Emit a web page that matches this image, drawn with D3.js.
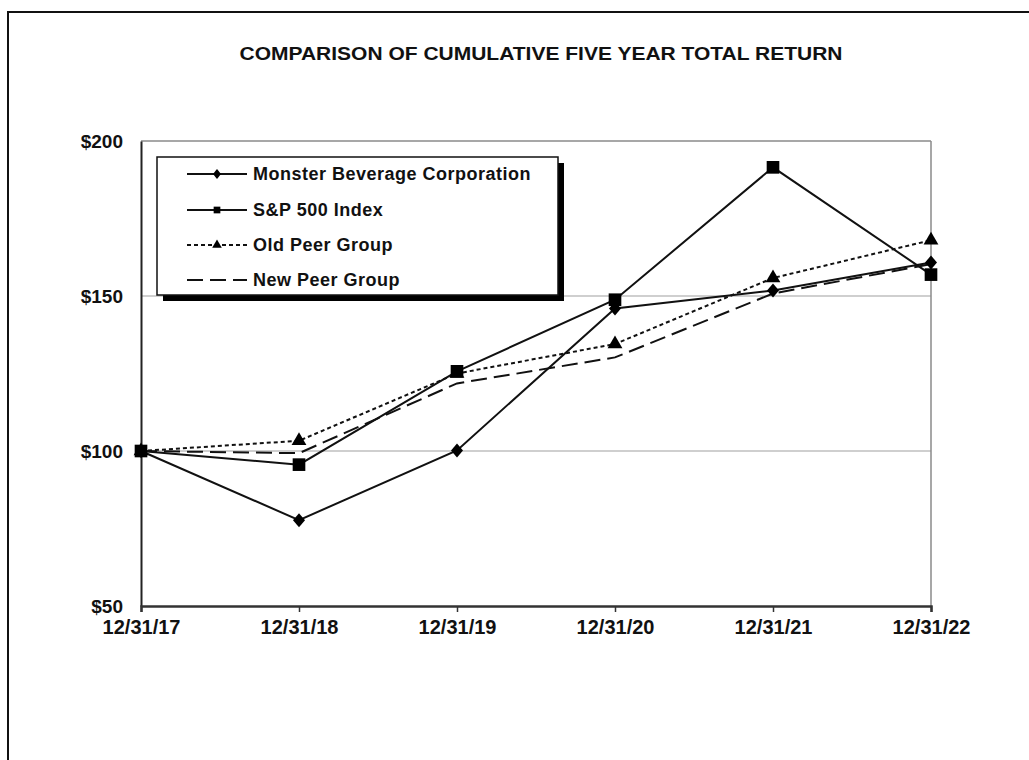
<!DOCTYPE html>
<html><head><meta charset="utf-8">
<script src="https://cdn.jsdelivr.net/npm/d3@7"></script>
<style>
html,body{margin:0;padding:0;background:#fff;}
svg{display:block;}
text{font-family:"Liberation Sans",Arial,sans-serif;font-weight:bold;fill:#111;}
</style></head>
<body>
<svg id="c" width="1029" height="760"></svg>
<script>
const title = "COMPARISON OF CUMULATIVE FIVE YEAR TOTAL RETURN";
const categories = ["12/31/17","12/31/18","12/31/19","12/31/20","12/31/21","12/31/22"];
const yTicks = [50,100,150,200];
const gridValues = [100,150];
const seriesNames = ["Monster Beverage Corporation","S&P 500 Index","Old Peer Group","New Peer Group"];
const monster = [100, 77.7, 100.2, 146.0, 151.8, 160.8];
const sp500   = [100, 95.6, 125.7, 148.8, 191.5, 156.9];
const oldPeer = [100, 103.3, 125.0, 134.5, 155.8, 168.0];
const newPeer = [100, 99.3, 121.8, 130.2, 150.8, 160.3];

const series = [
  {name: seriesNames[0], values: monster, marker: "diamond", dash: null},
  {name: seriesNames[1], values: sp500,   marker: "square",  dash: null},
  {name: seriesNames[2], values: oldPeer, marker: "triangle",dash: "4,3"},
  {name: seriesNames[3], values: newPeer, marker: null,      dash: "16,7"}
];

const svg = d3.select("#c");
const L = 141, R = 931, T = 141, B = 606;

// outer frame
svg.append("rect").attr("x",8).attr("y",12).attr("width",1100).attr("height",900)
  .attr("fill","none").attr("stroke","#111").attr("stroke-width",2);

// title
svg.append("text").attr("x",541).attr("y",60).attr("text-anchor","middle")
  .attr("font-size",19).attr("textLength",603).attr("lengthAdjust","spacingAndGlyphs")
  .text(title);

const x = d3.scalePoint().domain(categories).range([L,R]);
const y = d3.scaleLinear().domain([50,200]).range([B,T]);

// gridlines
svg.append("g").selectAll("line").data(gridValues).join("line")
  .attr("x1",L).attr("x2",R).attr("y1",d=>y(d)).attr("y2",d=>y(d))
  .attr("stroke","#a0a0a0").attr("stroke-width",1.2);
// top and right border
svg.append("line").attr("x1",L).attr("x2",R).attr("y1",y(200)).attr("y2",y(200))
  .attr("stroke","#8a8a8a").attr("stroke-width",1.5);
svg.append("line").attr("x1",R).attr("x2",R).attr("y1",T).attr("y2",B)
  .attr("stroke","#8a8a8a").attr("stroke-width",1.5);

// y axis
const yAxis = d3.axisLeft(y).tickValues(yTicks).tickSize(0).tickPadding(18).tickFormat(d=>"$"+d);
const gy = svg.append("g").attr("transform",`translate(${L},0)`).call(yAxis);
gy.select(".domain").attr("stroke","#222").attr("stroke-width",2);
gy.selectAll("text").attr("font-size",19).attr("font-family","'Liberation Sans',Arial,sans-serif").attr("font-weight","bold").attr("fill","#111");

// x axis
const xAxis = d3.axisBottom(x).tickSize(6).tickPadding(8);
const gx = svg.append("g").attr("transform",`translate(0,${B})`).call(xAxis);
gx.select(".domain").attr("stroke","#333").attr("stroke-width",2.5);
gx.selectAll(".tick line").attr("stroke","#333").attr("stroke-width",1.5);
gx.selectAll("text").attr("font-size",20).attr("font-family","'Liberation Sans',Arial,sans-serif").attr("font-weight","bold").attr("fill","#111").attr("dy","0.72em");

// lines
const line = d3.line().x((d,i)=>x(categories[i])).y(d=>y(d));
function diamond(w,h){ return `M0,${-h}L${w},0L0,${h}L${-w},0Z`; }
function markerD(type, big){
  if(type==="diamond") return big ? diamond(6,7) : diamond(4,5);
  if(type==="square") return d3.symbol(d3.symbolSquare, big?160:45)();
  return d3.symbol(d3.symbolTriangle, big?95:40)();
}

const gl = svg.append("g");
series.forEach(s=>{
  gl.append("path").attr("d", line(s.values)).attr("fill","none")
    .attr("stroke","#111").attr("stroke-width",2)
    .attr("stroke-dasharray", s.dash);
});
series.forEach(s=>{
  if(!s.marker) return;
  gl.selectAll(null).data(s.values).join("path")
    .attr("transform",(d,i)=>`translate(${x(categories[i])},${y(d)})`)
    .attr("d", markerD(s.marker, true))
    .attr("fill","#000");
});

// legend
const lx = 157, ly = 157, lw = 401, lh = 138;
svg.append("rect").attr("x",lx+6).attr("y",ly+6).attr("width",lw).attr("height",lh).attr("fill","#000");
svg.append("rect").attr("x",lx).attr("y",ly).attr("width",lw).attr("height",lh)
  .attr("fill","#fff").attr("stroke","#111").attr("stroke-width",1.5);
const rowY = [174, 210, 245, 280];
series.forEach((s,i)=>{
  const g = svg.append("g").attr("transform",`translate(0,${rowY[i]})`);
  g.append("line").attr("x1",187).attr("x2",247).attr("y1",0).attr("y2",0)
    .attr("stroke","#111").attr("stroke-width",2).attr("stroke-dasharray", s.dash);
  if(s.marker){
    g.append("path").attr("transform","translate(217,0)")
      .attr("d", markerD(s.marker, false)).attr("fill","#000");
  }
  g.append("text").attr("x",253).attr("y",0).attr("dy","0.36em")
    .attr("font-size",18).attr("letter-spacing",0.5).text(s.name);
});
</script>
</body></html>
